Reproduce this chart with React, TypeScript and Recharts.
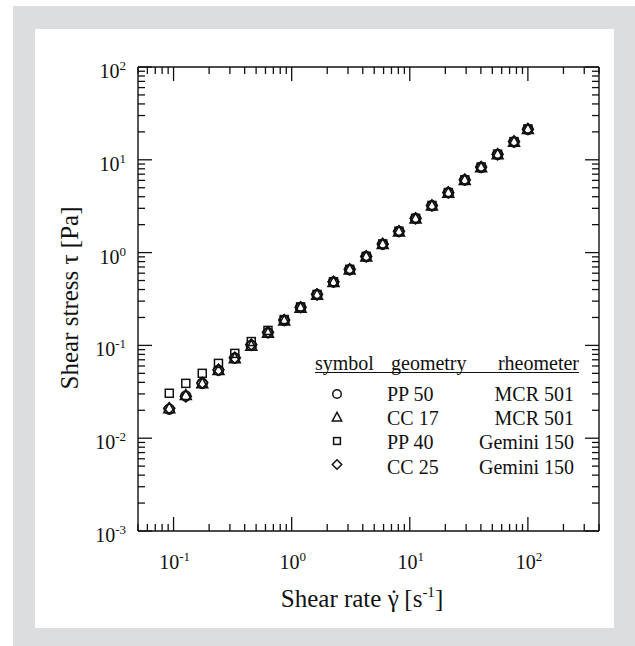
import React from 'react';
import { ScatterChart, Scatter, XAxis, YAxis } from 'recharts';

// Shear rate (1/s) of the measured points
const shearRate = [0.092, 0.127, 0.175, 0.24, 0.33, 0.455, 0.63, 0.865, 1.19, 1.64, 2.26, 3.1, 4.28, 5.9, 8.1, 11.2, 15.4, 21.2, 29.2, 40.2, 55.4, 76.3, 100];

// Shear stress (Pa) per measuring system
const tauPP50 = [0.0205, 0.0285, 0.039, 0.054, 0.073, 0.1, 0.137, 0.186, 0.256, 0.352, 0.482, 0.655, 0.905, 1.23, 1.69, 2.33, 3.2, 4.42, 6.05, 8.3, 11.4, 15.6, 21.3];
const tauCC17 = [0.0208, 0.0288, 0.0385, 0.0535, 0.072, 0.098, 0.135, 0.183, 0.252, 0.347, 0.476, 0.65, 0.895, 1.22, 1.67, 2.3, 3.17, 4.37, 6.0, 8.2, 11.3, 15.5, 21.2];
const tauPP40 = [0.0305, 0.039, 0.05, 0.064, 0.082, 0.11, 0.145, 0.19, 0.26, 0.354, 0.485, 0.66, 0.91, 1.24, 1.7, 2.34, 3.22, 4.44, 6.08, 8.35, 11.5, 15.7, 21.5];
const tauCC25 = [0.021, 0.0282, 0.0395, 0.0545, 0.0735, 0.102, 0.139, 0.188, 0.258, 0.355, 0.485, 0.66, 0.91, 1.24, 1.7, 2.34, 3.22, 4.45, 6.1, 8.35, 11.45, 15.7, 21.4];

const symbols = ['circle', 'triangle', 'square', 'diamond'];
const geometries = ['PP 50', 'CC 17', 'PP 40', 'CC 25'];
const rheometers = ['MCR 501', 'MCR 501', 'Gemini 150', 'Gemini 150'];
const seriesValues = [tauPP50, tauCC17, tauPP40, tauCC25];

const legendHeader = ['symbol', 'geometry', 'rheometer'];
const xTitle = 'Shear rate';
const yTitle = 'Shear stress \u03c4 [Pa]';

const xDomain = [0.05, 400];
const yDomain = [0.001, 100];
const xTicks = [
  0.05, 0.06, 0.07, 0.08, 0.09,
  0.1, 0.2, 0.3, 0.4, 0.5, 0.6, 0.7, 0.8, 0.9,
  1, 2, 3, 4, 5, 6, 7, 8, 9,
  10, 20, 30, 40, 50, 60, 70, 80, 90,
  100, 200, 300, 400,
];
const yTicks = [
  0.001, 0.002, 0.003, 0.004, 0.005, 0.006, 0.007, 0.008, 0.009,
  0.01, 0.02, 0.03, 0.04, 0.05, 0.06, 0.07, 0.08, 0.09,
  0.1, 0.2, 0.3, 0.4, 0.5, 0.6, 0.7, 0.8, 0.9,
  1, 2, 3, 4, 5, 6, 7, 8, 9,
  10, 20, 30, 40, 50, 60, 70, 80, 90,
  100,
];

const FONT = '"Liberation Serif", "Times New Roman", serif';
const INK = '#111';
const MAJOR = 14;
const MINOR = 7;

const isMajor = (v: number) => Math.abs(Math.log10(v) - Math.round(Math.log10(v))) < 1e-6;
const expOf = (v: number) => Math.round(Math.log10(v));

const XTick = (props: any) => {
  const { x, y, payload, side } = props;
  const v = payload.value;
  const major = isMajor(v);
  const len = major ? MAJOR : MINOR;
  const dir = side === 'top' ? 1 : -1;
  return (
    <g>
      <line x1={x} x2={x} y1={y} y2={y + dir * len} stroke={INK} strokeWidth={1.3} />
      {side === 'bottom' && major && (
        <text x={x + 1} y={y + 38} textAnchor="middle" fontFamily={FONT} fontSize={20} fill={INK}>
          10
          <tspan fontSize={13} dy={-8}>{String(expOf(v))}</tspan>
        </text>
      )}
    </g>
  );
};

const YTick = (props: any) => {
  const { x, y, payload, side } = props;
  const v = payload.value;
  const major = isMajor(v);
  const len = major ? MAJOR : MINOR;
  const dir = side === 'left' ? 1 : -1;
  return (
    <g>
      <line x1={x} x2={x + dir * len} y1={y} y2={y} stroke={INK} strokeWidth={1.3} />
      {side === 'left' && major && (
        <text x={x - 12} y={y + 11} textAnchor="end" fontFamily={FONT} fontSize={20} fill={INK}>
          10
          <tspan fontSize={13} dy={-8}>{String(expOf(v))}</tspan>
        </text>
      )}
    </g>
  );
};

const Marker = ({ cx, cy, kind, scale = 1 }: any) => {
  if (cx == null || cy == null) return null;
  const common = { fill: 'none', stroke: INK, strokeWidth: 1.5 };
  if (kind === 'circle') return <circle cx={cx} cy={cy} r={5 * scale} {...common} />;
  if (kind === 'triangle') {
    const s = scale;
    return <polygon points={`${cx},${cy - 6 * s} ${cx - 5.5 * s},${cy + 4 * s} ${cx + 5.5 * s},${cy + 4 * s}`} {...common} />;
  }
  if (kind === 'square') {
    const h = 4 * scale;
    return <rect x={cx - h} y={cy - h} width={2 * h} height={2 * h} {...common} />;
  }
  const d = 5.5 * scale;
  return <polygon points={`${cx},${cy - d} ${cx + d},${cy} ${cx},${cy + d} ${cx - d},${cy}`} {...common} />;
};

const W = 635;
const H = 646;
const PLOT = { left: 138, top: 67, right: 599, bottom: 531 };
const AX = 1; // thickness of each axis box

export default function App() {
  const axisLine = { stroke: INK, strokeWidth: 1.4 };
  return (
    <div style={{ position: 'absolute', left: 0, top: 0, width: W, height: H, background: '#fff', overflow: 'hidden' }}>
      <div style={{ position: 'absolute', left: 13, top: 6, width: W - 13, height: H - 6, background: '#dcdddf' }} />
      <div style={{ position: 'absolute', left: 35, top: 29, width: 579, height: 599, background: '#fff' }} />
      <div style={{ position: 'absolute', left: 0, top: 0 }}>
        <ScatterChart
          width={W}
          height={H}
          margin={{ top: PLOT.top - AX, left: PLOT.left - AX, right: W - PLOT.right - AX, bottom: H - PLOT.bottom - AX }}
        >
          <XAxis
            xAxisId="b"
            dataKey="x"
            type="number"
            scale="log"
            domain={xDomain}
            allowDataOverflow
            ticks={xTicks}
            interval={0}
            height={AX}
            tickSize={0}
            tickMargin={0}
            tickLine={false}
            axisLine={axisLine}
            tick={(p: any) => <XTick {...p} side="bottom" />}
          />
          <XAxis
            xAxisId="t"
            orientation="top"
            dataKey="x"
            type="number"
            scale="log"
            domain={xDomain}
            allowDataOverflow
            ticks={xTicks}
            interval={0}
            height={AX}
            tickSize={0}
            tickMargin={0}
            tickLine={false}
            axisLine={axisLine}
            tick={(p: any) => <XTick {...p} side="top" />}
          />
          <YAxis
            yAxisId="l"
            dataKey="y"
            type="number"
            scale="log"
            domain={yDomain}
            allowDataOverflow
            ticks={yTicks}
            interval={0}
            width={AX}
            tickSize={0}
            tickMargin={0}
            tickLine={false}
            axisLine={axisLine}
            tick={(p: any) => <YTick {...p} side="left" />}
          />
          <YAxis
            yAxisId="r"
            orientation="right"
            dataKey="y"
            type="number"
            scale="log"
            domain={yDomain}
            allowDataOverflow
            ticks={yTicks}
            interval={0}
            width={AX}
            tickSize={0}
            tickMargin={0}
            tickLine={false}
            axisLine={axisLine}
            tick={(p: any) => <YTick {...p} side="right" />}
          />
          {seriesValues.map((vals, si) => (
            <Scatter
              key={geometries[si]}
              name={geometries[si]}
              xAxisId="b"
              yAxisId="l"
              data={shearRate.map((x, i) => ({ x, y: vals[i] }))}
              isAnimationActive={false}
              shape={(p: any) => <Marker cx={p.cx} cy={p.cy} kind={symbols[si]} />}
            />
          ))}
          {seriesValues.map((vals, si) => (
            <Scatter
              key={'ghost' + si}
              xAxisId="t"
              yAxisId="r"
              data={shearRate.map((x, i) => ({ x, y: vals[i] }))}
              isAnimationActive={false}
              shape={() => <g />}
            />
          ))}
        </ScatterChart>
      </div>
      <svg width={W} height={H} style={{ position: 'absolute', left: 0, top: 0, pointerEvents: 'none' }}>
        {/* axis titles */}
        <text x={362} y={607} textAnchor="middle" fontFamily={FONT} fontSize={25} fill={INK}>
          {xTitle} {'\u03b3'}<tspan dx={-9}>{'\u02d9'}</tspan> [s<tspan fontSize={15} dy={-10}>-1</tspan><tspan dy={10}>]</tspan>
        </text>
        <text
          x={78}
          y={298}
          textAnchor="middle"
          fontFamily={FONT}
          fontSize={25}
          fill={INK}
          transform="rotate(-90 78 298)"
        >
          {yTitle}
        </text>
        {/* legend table */}
        <g fontFamily={FONT} fontSize={20} fill={INK}>
          <text x={315} y={370}>{legendHeader[0]}</text>
          <text x={391} y={370}>{legendHeader[1]}</text>
          <text x={579} y={370} textAnchor="end">{legendHeader[2]}</text>
          <line x1={315} x2={579} y1={372.5} y2={372.5} stroke={INK} strokeWidth={1} />
          {geometries.map((g, i) => (
            <g key={g}>
              <Marker cx={337} cy={394 + i * 23.5} kind={symbols[i]} scale={0.85} />
              <text x={387} y={401 + i * 24.2}>{g}</text>
              <text x={574} y={401 + i * 24.2} textAnchor="end">{rheometers[i]}</text>
            </g>
          ))}
        </g>
      </svg>
    </div>
  );
}
